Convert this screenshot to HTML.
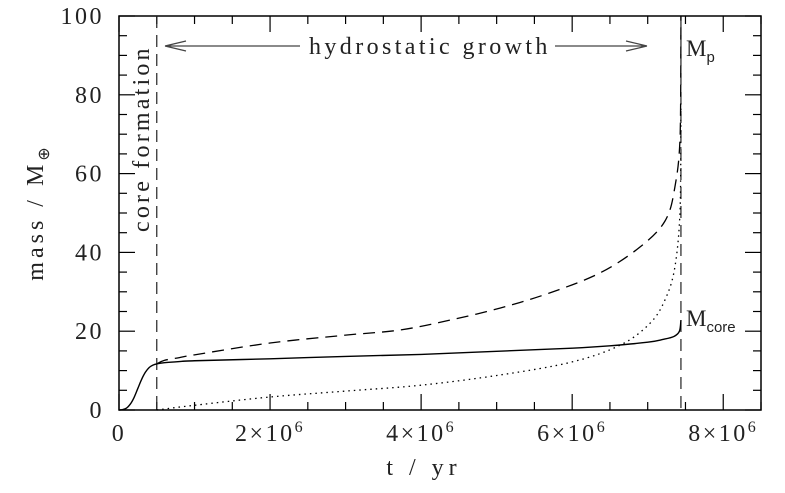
<!DOCTYPE html>
<html><head><meta charset="utf-8"><style>
html,body{margin:0;padding:0;background:#fff;}
svg{display:block;font-family:"Liberation Serif",serif;}
</style></head><body>
<svg id="chart" width="785" height="493" viewBox="0 0 785 493">
<g id="axes"></g>
<g id="series"></g>
</svg>
<script>
// data (t in years, mass in Earth masses)
const coreT = [0,0.05e6,0.1e6,0.15e6,0.2e6,0.25e6,0.3e6,0.35e6,0.4e6,0.45e6,0.5e6,0.6e6,0.8e6,1e6,2e6,3e6,4e6,5e6,6e6,6.5e6,7e6,7.2e6,7.35e6,7.42e6,7.44e6];
const coreM = [0,0.1,0.5,1.5,3.2,5.5,7.8,9.6,10.8,11.4,11.7,12,12.3,12.5,13,13.6,14.1,14.9,15.7,16.3,17.2,17.9,18.7,20,22.8];
const envT = [0.5e6,0.6e6,0.8e6,1e6,2e6,3e6,3.72e6,4.38e6,5.05e6,5.7e6,6.37e6,6.9e6,7.23e6,7.36e6,7.43e6,7.44e6];
const envM = [11.7,12.6,13.3,14,17,19,20.3,22.8,25.9,29.7,34.8,41.4,48,56.6,70,100];
const gasT = [0.5e6,1e6,2e6,3e6,4e6,5.05e6,6e6,6.64e6,7.03e6,7.23e6,7.36e6,7.43e6,7.44e6];
const gasM = [0,1.2,3.3,4.8,6.3,8.9,12.2,16.5,22,28,36.3,51.5,78];
const xTicks = [0,2e6,4e6,6e6,8e6];
const xTickLabels = ["0","2×10","4×10","6×10","8×10"];
const yTicks = [0,20,40,60,80,100];
const coreFormationT = 0.5e6;
const onsetT = 7.44e6;

const X0=119,X1=761,Y0=410,Y1=16,XMAX=8.5e6,YMAX=100;
const sx=t=>X0+(t/XMAX)*(X1-X0);
const sy=m=>Y0-(m/YMAX)*(Y0-Y1);
const NS="http://www.w3.org/2000/svg";
const axes=document.getElementById('axes'), series=document.getElementById('series');
function mk(tag,attrs,parent){const e=document.createElementNS(NS,tag);for(const k in attrs)e.setAttribute(k,attrs[k]);parent.appendChild(e);return e;}

const frame=mk('rect',{x:X0,y:Y1,width:X1-X0,height:Y0-Y1,fill:'none',stroke:'#000','stroke-width':1.5},axes);


for(let t=0;t<=XMAX+1;t+=0.5e6){
  const major=Math.abs(t/2e6-Math.round(t/2e6))<1e-9, L=major?16:8;
  const a=mk('line',{x1:sx(t),x2:sx(t),y1:Y0,y2:Y0-L,stroke:'#000','stroke-width':1.2},axes);
  
  
  const b=mk('line',{x1:sx(t),x2:sx(t),y1:Y1,y2:Y1+L,stroke:'#000','stroke-width':1.2},axes);
  
  
}
for(let m=0;m<=YMAX;m+=5){
  const L=(m%20===0)?16:8;
  const a=mk('line',{x1:X0,x2:X0+L,y1:sy(m),y2:sy(m),stroke:'#000','stroke-width':1.2},axes);
  
  
  const b=mk('line',{x1:X1,x2:X1-L,y1:sy(m),y2:sy(m),stroke:'#000','stroke-width':1.2},axes);
  
  
}
yTicks.forEach(m=>{
  const t=mk('text',{x:104,y:sy(m)+8,'text-anchor':'end','font-size':24,fill:'#222','letter-spacing':2.5},axes);
  
  
  t.textContent=m;
});
xTicks.forEach((v,i)=>{
  const t=mk('text',{x:sx(v),y:441,'text-anchor':'middle','font-size':24,fill:'#222','letter-spacing':2.5},axes);
  
  
  if(v===0){t.textContent='0';}
  else{t.textContent=xTickLabels[i];const s=mk('tspan',{dy:-9,'font-size':16},t);s.textContent='6';}
});
const xl=mk('text',{x:424,y:475,'text-anchor':'middle','font-size':24,fill:'#222','letter-spacing':5},axes);


xl.textContent='t / yr';
const yl=mk('text',{x:0,y:0,'text-anchor':'middle','font-size':24,fill:'#222','letter-spacing':4,transform:'translate(43,212) rotate(-90)'},axes);


yl.textContent='mass / M';
const ys=mk('tspan',{dy:6,'font-size':16},yl);ys.textContent='⊕';

[coreFormationT,onsetT].forEach((t,i)=>{
  const l=mk('line',{x1:sx(t),x2:sx(t),y1:Y1,y2:Y0,stroke:'#222','stroke-width':1.2,'stroke-dasharray':'12,7'},series);
  
  
});
function path(T,M,attrs,name){
  const P=T.map((t,i)=>[sx(t),sy(M[i])]);
  let d='M'+P[0][0].toFixed(2)+','+P[0][1].toFixed(2);
  for(let i=0;i<P.length-1;i++){
    const p0=P[Math.max(0,i-1)],p1=P[i],p2=P[i+1],p3=P[Math.min(P.length-1,i+2)];
    const c1=[p1[0]+(p2[0]-p0[0])/6,p1[1]+(p2[1]-p0[1])/6];
    const c2=[p2[0]-(p3[0]-p1[0])/6,p2[1]-(p3[1]-p1[1])/6];
    c1[0]=Math.min(Math.max(c1[0],p1[0]),p2[0]);c2[0]=Math.min(Math.max(c2[0],p1[0]),p2[0]);
    d+='C'+c1.map(v=>v.toFixed(2)).join(',')+' '+c2.map(v=>v.toFixed(2)).join(',')+' '+p2.map(v=>v.toFixed(2)).join(',');
  }
  const p=mk('path',Object.assign({d,fill:'none'},attrs),series);
  
  
}
path(coreT,coreM,{stroke:'#000','stroke-width':1.4},'core-mass-line');
path(envT,envM,{stroke:'#000','stroke-width':1.3,'stroke-dasharray':'12,7'},'planet-mass-line');
path(gasT,gasM,{stroke:'#000','stroke-width':1.3,'stroke-dasharray':'1.5,4'},'envelope-mass-line');

const cf=mk('text',{x:0,y:0,'font-size':24,fill:'#222','letter-spacing':3.2,transform:'translate(149,232) rotate(-90)'},series);


cf.textContent='core formation';
const ar=mk('path',{d:'M165,46 L300,46 M165,46 L186,41 M165,46 L186,51 M555,46 L647,46 M647,46 L626,41 M647,46 L626,51',stroke:'#444','stroke-width':1.3,fill:'none'},series);


const hg=mk('text',{x:309,y:54,'font-size':24,fill:'#222','letter-spacing':3.4},series);


hg.textContent='hydrostatic growth';
const mp=mk('text',{x:686,y:56,'font-size':23,fill:'#222'},series);


mp.textContent='M';
const mps=mk('tspan',{dy:6,'font-size':15,'font-family':'Liberation Sans, sans-serif'},mp);mps.textContent='p';
const mc=mk('text',{x:686,y:326,'font-size':23,fill:'#222'},series);


mc.textContent='M';
const mcs=mk('tspan',{dy:6,'font-size':15,'font-family':'Liberation Sans, sans-serif'},mc);mcs.textContent='core';
</script>
</body></html>
